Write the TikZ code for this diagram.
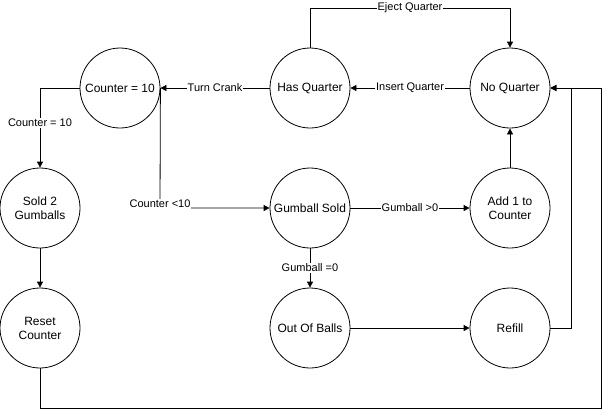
\documentclass[tikz,border=0pt]{standalone}
\usepackage{fontspec}
\setmainfont{Liberation Sans}
\usetikzlibrary{arrows.meta}
\begin{document}
\begin{tikzpicture}[x=1pt,y=-1pt,
  state/.style={draw,circle,minimum size=80pt,inner sep=0pt,align=center,font=\fontsize{12}{14}\selectfont,line width=0.8pt},
  conn/.style={draw,line width=0.8pt,-{Triangle[length=6pt,width=6pt]}},
  plain/.style={draw,line width=0.8pt},
  lbl/.style={fill=white,inner sep=1pt,font=\fontsize{11}{13}\selectfont}]
\useasboundingbox (0,0) rectangle (609,416);
\node[state] (c10) at (120,88) {Counter = 10};
\node[state] (hq) at (310,88) {Has Quarter};
\node[state] (nq) at (510,88) {No Quarter};
\node[state] (s2) at (40,208) {Sold 2\\Gumballs};
\node[state] (gs) at (310,208) {Gumball Sold};
\node[state] (a1) at (510,208) {Add 1 to\\Counter};
\node[state] (rc) at (40,328) {Reset\\Counter};
\node[state] (ob) at (310,328) {Out Of Balls};
\node[state] (rf) at (510,328) {Refill};
\coordinate (ej1) at (310,8);
\coordinate (ej2) at (510,8);
\coordinate (r1) at (571,328);
\coordinate (r2) at (571,88);
\coordinate (b1) at (40,408);
\coordinate (b2) at (601,408);
\coordinate (b3) at (601,88);
\coordinate (cl) at (160,208);
% edges
\draw[conn] (hq.west) -- node[lbl]{Turn Crank} (c10.east);
\draw[conn] (nq.west) -- node[lbl]{Insert Quarter} (hq.east);
\draw[conn] (hq.north) -- (ej1) -- node[lbl]{Eject Quarter} (ej2) -- (nq.north);
\draw[conn] (c10.west) -| node[lbl,pos=0.72]{Counter = 10} (s2.north);
\draw[conn] (c10.east) -- (cl) -- (gs.west);
\node[lbl] (lc) at (160,204) {Counter <10};
\draw[conn] (gs.east) -- node[lbl]{Gumball >0} (a1.west);
\draw[conn] (gs.south) -- node[lbl]{Gumball =0} (ob.north);
\draw[conn] (a1.north) -- (nq.south);
\draw[conn] (s2.south) -- (rc.north);
\draw[conn] (ob.east) -- (rf.west);
\draw[conn] (rf.east) -- (r1) -- (r2) -- (nq.east);
\draw[conn] (rc.south) -- (b1) -- (b2) -- (b3) -- (nq.east);
\end{tikzpicture}
\end{document}
